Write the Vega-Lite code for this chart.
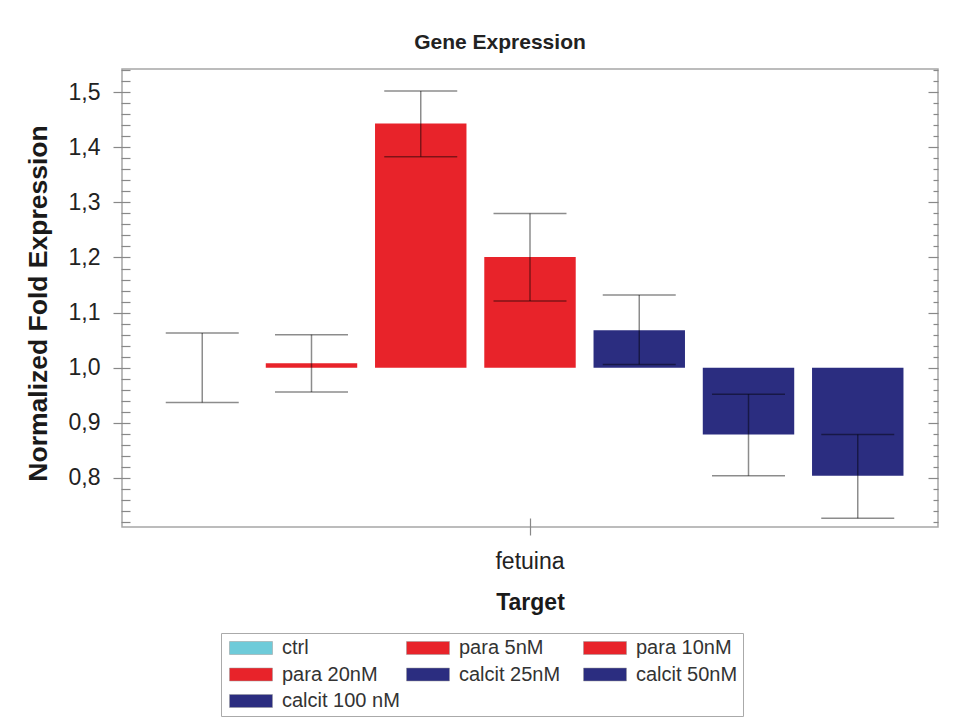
{
  "$schema": "https://vega.github.io/schema/vega-lite/v6.json",
  "width": 816,
  "height": 458,
  "autosize": "none",
  "padding": {"left": 122, "top": 69, "right": 42, "bottom": 197},
  "background": "white",
  "title": {
    "text": "Gene Expression",
    "font": "Liberation Sans",
    "fontSize": 21,
    "fontWeight": "bold",
    "color": "#222222",
    "anchor": "middle",
    "frame": "group",
    "dx": -30,
    "dy": 31,
    "offset": 20,
    "baseline": "alphabetic"
  },
  "config": {
    "view": {"stroke": "#a6a6a6", "strokeWidth": 1.5},
    "font": "Liberation Sans"
  },
  "data": {
    "values": [
      {"Target": "fetuina", "sample": "ctrl", "value": 1.0, "lo": 0.937, "hi": 1.063},
      {"Target": "fetuina", "sample": "para 5nM", "value": 1.008, "lo": 0.956, "hi": 1.06},
      {"Target": "fetuina", "sample": "para 10nM", "value": 1.443, "lo": 1.383, "hi": 1.502},
      {"Target": "fetuina", "sample": "para 20nM", "value": 1.201, "lo": 1.121, "hi": 1.28},
      {"Target": "fetuina", "sample": "calcit 25nM", "value": 1.068, "lo": 1.006, "hi": 1.132},
      {"Target": "fetuina", "sample": "calcit 50nM", "value": 0.879, "lo": 0.804, "hi": 0.952},
      {"Target": "fetuina", "sample": "calcit 100 nM", "value": 0.804, "lo": 0.727, "hi": 0.879}
    ]
  },
  "encoding": {
    "x": {
      "field": "Target",
      "type": "nominal",
      "scale": {"paddingInner": 0, "paddingOuter": 0},
      "axis": {
        "title": "Target",
        "titleFont": "Liberation Sans",
        "titleFontSize": 23,
        "titleFontWeight": "bold",
        "titleColor": "#1a1a1a",
        "titlePadding": 18,
        "labelFont": "Liberation Sans",
        "labelFontSize": 23,
        "labelColor": "#222222",
        "labelAngle": 0,
        "labelPadding": 15,
        "domain": false,
        "offset": -9,
        "tickSize": 17,
        "tickColor": "#888888",
        "tickWidth": 1.2
      }
    },
    "xOffset": {
      "field": "sample",
      "type": "nominal",
      "sort": ["ctrl", "para 5nM", "para 10nM", "para 20nM", "calcit 25nM", "calcit 50nM", "calcit 100 nM"],
      "scale": {"paddingInner": 0.163, "paddingOuter": 0.316}
    }
  },
  "layer": [
    {
      "mark": {"type": "bar"},
      "encoding": {
        "y": {
          "field": "value",
          "type": "quantitative",
          "scale": {"domain": [0.711, 1.542], "nice": false, "zero": false},
          "axis": {
            "orient": "left",
            "title": "Normalized Fold Expression",
            "titleFont": "Liberation Sans",
            "titleFontSize": 26.5,
            "titleFontWeight": "bold",
            "titleColor": "#1a1a1a",
            "titlePadding": 16,
            "titleY": 234,
            "values": [0.72, 0.74, 0.76, 0.78, 0.8, 0.82, 0.84, 0.86, 0.88, 0.9, 0.92, 0.94, 0.96, 0.98, 1, 1.02, 1.04, 1.06, 1.08, 1.1, 1.12, 1.14, 1.16, 1.18, 1.2, 1.22, 1.24, 1.26, 1.28, 1.3, 1.32, 1.34, 1.36, 1.38, 1.4, 1.42, 1.44, 1.46, 1.48, 1.5, 1.52, 1.54],
            "labelExpr": "abs(datum.value*10 - round(datum.value*10)) < 0.001 ? replace(format(datum.value, '.1f'), '.', ',') : ''",
            "labelOverlap": false,
            "labelBound": false,
            "labelFlush": false,
            "labelFont": "Liberation Sans",
            "labelFontSize": 23,
            "labelColor": "#222222",
            "labelPadding": 13,
            "domain": false,
            "grid": false,
            "offset": -8,
            "tickSize": {"condition": {"test": "abs(datum.value*10 - round(datum.value*10)) < 0.001", "value": 17}, "value": 9},
            "tickColor": "#888888",
            "tickWidth": 1.2
          }
        },
        "y2": {"datum": 1},
        "color": {
          "field": "sample",
          "type": "nominal",
          "scale": {
            "domain": ["ctrl", "para 5nM", "para 10nM", "para 20nM", "calcit 25nM", "calcit 50nM", "calcit 100 nM"],
            "range": ["#6ecbd9", "#e8232a", "#e8232a", "#e8232a", "#2b2d80", "#2b2d80", "#2b2d80"]
          },
          "legend": {
            "title": null,
            "orient": "none",
            "legendX": 99,
            "legendY": 564,
            "columns": 3,
            "direction": "horizontal",
            "gridAlign": "all",
            "columnPadding": 3,
            "rowPadding": 6.5,
            "padding": 5,
            "strokeColor": "#aaaaaa",
            "symbolType": "M-1,-1H5.615V1H-1Z",
            "symbolSize": 169,
            "symbolStrokeColor": "#999999",
            "symbolStrokeWidth": 0.5,
            "symbolOpacity": 1,
            "labelOffset": 36,
            "labelFont": "Liberation Sans",
            "labelFontSize": 20,
            "labelColor": "#333333",
            "labelLimit": 250
          }
        }
      }
    },
    {
      "mark": {"type": "rule", "color": "black", "opacity": 0.45, "strokeWidth": 1.5},
      "encoding": {
        "y": {
          "field": "lo",
          "type": "quantitative",
          "axis": {
            "orient": "right",
            "title": null,
            "labels": false,
            "domain": false,
            "grid": false,
            "values": [0.72, 0.74, 0.76, 0.78, 0.8, 0.82, 0.84, 0.86, 0.88, 0.9, 0.92, 0.94, 0.96, 0.98, 1, 1.02, 1.04, 1.06, 1.08, 1.1, 1.12, 1.14, 1.16, 1.18, 1.2, 1.22, 1.24, 1.26, 1.28, 1.3, 1.32, 1.34, 1.36, 1.38, 1.4, 1.42, 1.44, 1.46, 1.48, 1.5, 1.52, 1.54],
            "tickSize": {"condition": {"test": "abs(datum.value*10 - round(datum.value*10)) < 0.001", "value": -10}, "value": -5},
            "tickColor": "#888888",
            "tickWidth": 1.2
          }
        },
        "y2": {"field": "hi"}
      }
    },
    {
      "mark": {"type": "tick", "orient": "horizontal", "color": "black", "opacity": 0.45, "size": 73, "thickness": 1.5},
      "encoding": {
        "y": {"field": "lo", "type": "quantitative", "axis": null}
      }
    },
    {
      "mark": {"type": "tick", "orient": "horizontal", "color": "black", "opacity": 0.45, "size": 73, "thickness": 1.5},
      "encoding": {
        "y": {"field": "hi", "type": "quantitative", "axis": null}
      }
    }
  ],
  "resolve": {"axis": {"y": "independent"}}
}
